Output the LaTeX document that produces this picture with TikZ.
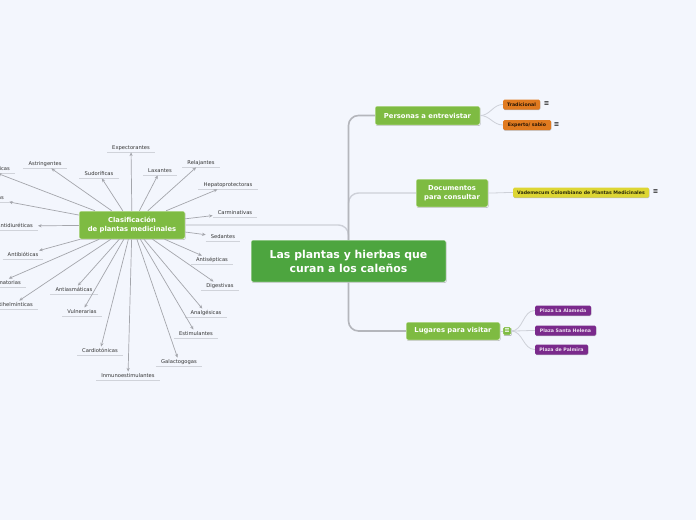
\documentclass[tikz,border=0pt]{standalone}
\usepackage{fontspec}
\setmainfont{DejaVu Sans}
\usetikzlibrary{arrows.meta,shadows}
\definecolor{bg}{HTML}{F3F6FD}
\definecolor{maingreen}{HTML}{4DA53F}
\definecolor{subgreen}{HTML}{7EBB42}
\definecolor{orangebox}{HTML}{E07A1F}
\definecolor{yellowbox}{HTML}{DDD633}
\definecolor{purplebox}{HTML}{7A2A8C}
\definecolor{trunkc}{HTML}{B4B6BC}
\definecolor{branchc}{HTML}{CDD0D8}
\definecolor{arrowc}{HTML}{A4A6AC}
\definecolor{ulc}{HTML}{D0D3DA}
\definecolor{labtext}{HTML}{333333}
\tikzset{
  box/.style={rounded corners=2pt, draw=white, line width=0.5pt, text=white,
    align=center, inner sep=0pt,
    drop shadow={shadow xshift=0.6pt, shadow yshift=-0.9pt, opacity=0.25, fill=black}},
  mainbox/.style={box, fill=maingreen, minimum width=195pt, minimum height=42pt,
    font=\fontsize{10.9}{14}\selectfont\bfseries},
  topic/.style={box, fill=subgreen, font=\fontsize{6.8}{9}\selectfont\bfseries},
  tagbox/.style={rounded corners=1.5pt, inner sep=0pt, minimum height=10pt,
    font=\fontsize{4.7}{5.5}\selectfont\bfseries,
    drop shadow={shadow xshift=0.4pt, shadow yshift=-0.7pt, opacity=0.25, fill=black}},
  orangetag/.style={tagbox, fill=orangebox, text=black!80!orangebox},
  yellowtag/.style={tagbox, fill=yellowbox, text=black!80!yellowbox},
  purpletag/.style={tagbox, fill=purplebox, text=white!85!purplebox},
  lab/.style={font=\fontsize{5.2}{6}\selectfont, text=labtext, inner xsep=5pt,
    inner ysep=1.8pt, text height=3.9pt, text depth=1pt,
    append after command={(\tikzlastnode.south west) edge[draw=ulc, line width=0.8pt] (\tikzlastnode.south east)}},
  arr/.style={draw=arrowc, line width=0.7pt, -{Stealth[length=3.6pt,width=3.2pt]}},
  trunk/.style={draw=trunkc, line width=1.6pt, rounded corners=10pt},
  branch/.style={draw=branchc, line width=1.4pt, rounded corners=10pt},
  thin/.style={draw=branchc, line width=0.8pt},
  menu/.style={font=\fontsize{6.5}{7}\selectfont\bfseries, text=black!85, inner sep=0pt}
}
\begin{document}
\begin{tikzpicture}[x=1pt,y=-1pt]
\fill[bg] (0,0) rectangle (696,520);
\useasboundingbox (0,0) rectangle (696,520);
\clip (0,0) rectangle (696,520);

% main topics
\node[mainbox] (main) at (348.5,261) {Las plantas y hierbas que\\curan a los caleños};
\node[topic, minimum width=105pt, minimum height=19pt] (pers) at (427.5,115.5) {Personas a entrevistar};
\node[topic, minimum width=72pt, minimum height=28pt] (docs) at (452,193) {Documentos\\para consultar};
\node[topic, minimum width=94pt, minimum height=18pt] (lug) at (453,331) {Lugares para visitar};
\node[topic, minimum width=106pt, minimum height=28pt] (clas) at (132,225) {Clasificación\\de plantas medicinales};

% connectors from main
\draw[branch] (clas.east) -| (main.north);
\draw[branch] (main.north) |- (docs.west);
\draw[trunk] (main.north) |- (pers.west);
\draw[trunk] (main.south) |- (lug.west);

% tags
\node[orangetag, minimum width=37pt] (trad) at (521.5,104.5) {Tradicional};
\node[orangetag, minimum width=48pt] (exp) at (527,125) {Experto/ sabio};
\node[menu] (m1) at (546.5,104) {≡};
\node[menu] (m2) at (556.5,124.5) {≡};
\node[yellowtag, minimum width=136pt] (vad) at (581,192.5) {Vademecum Colombiano de Plantas Medicinales};
\node[menu] (m3) at (655.5,192) {≡};
\node[box, fill=subgreen, minimum width=8pt, minimum height=8pt, rounded corners=1pt, line width=0.4pt,
  font=\fontsize{6.5}{7}\selectfont\bfseries] (icon) at (507,331) {≡};
\node[purpletag, minimum width=56pt] (ala) at (563,310.5) {Plaza La Alameda};
\node[purpletag, minimum width=61pt] (sta) at (565.5,330.5) {Plaza Santa Helena};
\node[purpletag, minimum width=53pt] (pal) at (561.5,349.5) {Plaza de Palmira};

\draw[thin] (pers.east) to[out=0,in=180] (trad.west);
\draw[thin] (pers.east) to[out=0,in=180] (exp.west);
\draw[thin] (docs.east) to[out=0,in=180] (vad.west);
\draw[thin] (lug.east) -- (icon.west);
\draw[thin] (icon.east) to[out=0,in=180] (ala.west);
\draw[thin] (icon.east) to[out=0,in=180] (sta.west);
\draw[thin] (icon.east) to[out=0,in=180] (pal.west);

% classification labels
\node[lab] (l1) at (131,148) {Expectorantes};
\node[lab] (l2) at (99,174) {Sudoríficas};
\node[lab] (l3) at (160,171) {Laxantes};
\node[lab] (l4) at (201,163) {Relajantes};
\node[lab] (l5) at (228,185) {Hepatoprotectoras};
\node[lab] (l6) at (235,213) {Carminativas};
\node[lab] (l7) at (223,237) {Sedantes};
\node[lab] (l8) at (212,260) {Antisépticas};
\node[lab] (l9) at (220,286) {Digestivas};
\node[lab] (l10) at (206,313) {Analgésicas};
\node[lab] (l11) at (196,334) {Estimulantes};
\node[lab] (l12) at (179,362) {Galactogogas};
\node[lab] (l13) at (128,376) {Inmunoestimulantes};
\node[lab] (l14) at (100,351) {Cardiotónicas};
\node[lab] (l15) at (82,312) {Vulnerarias};
\node[lab] (l16) at (74,290) {Antiasmáticas};
\node[lab, anchor=east] (l17) at (38,305) {Antihelmínticas};
\node[lab, anchor=east] (l18) at (26,283) {Antiinflamatorias};
\node[lab] (l19) at (23,255) {Antibióticas};
\node[lab, anchor=east] (l20) at (38,226) {Antidiuréticas};
\node[lab, anchor=east] (l21) at (9,198) {Depurativas};
\node[lab, anchor=east] (l22) at (15,169) {Antiespasmódicas};
\node[lab] (l23) at (45,164) {Astringentes};

\foreach \i in {1,...,23} {\draw[arr] (clas) -- (l\i);}
\end{tikzpicture}
\end{document}
